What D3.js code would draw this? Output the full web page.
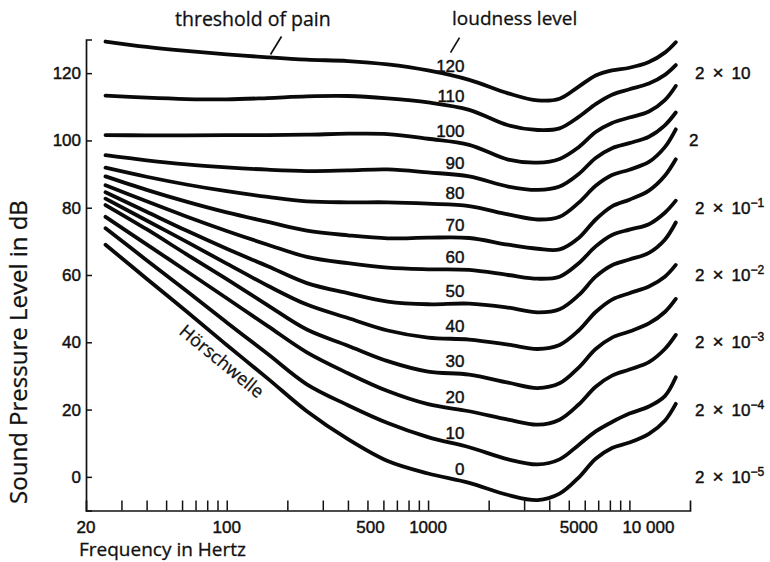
<!DOCTYPE html>
<html>
<head>
<meta charset="utf-8">
<script src="https://cdn.jsdelivr.net/npm/d3@7"></script>
<style>
  body { margin: 0; background: #fff; }
  svg { display: block; }
  .num { font-family: "Liberation Sans", Arial, sans-serif; font-size: 17px; fill: #111; stroke: #111; stroke-width: 0.45px; }
  .word { font-family: "Open Sans", sans-serif; fill: #111; stroke: #111; stroke-width: 0.3px; }
</style>
</head>
<body>
<div id="chart"></div>
<script>
const frequencies = [25, 40, 63, 100, 160, 250, 400, 630, 1000, 1600, 2500, 3500, 4500, 5600, 6800, 8200, 10000, 12500, 15000, 17000];

// sound pressure level (dB) of each equal loudness curve
const phon120 = [129.4, 127.8, 126.6, 125.6, 124.7, 124.0, 123.6, 122.6, 120.8, 118.0, 114.0, 111.9, 112.4, 116.0, 119.3, 120.8, 121.6, 123.3, 126.1, 129.2];
const phon110 = [113.3, 112.7, 112.3, 112.2, 112.6, 113.1, 113.2, 112.5, 111.3, 109.1, 104.5, 103.1, 103.6, 107.0, 110.8, 113.6, 115.2, 116.9, 119.5, 122.4];
const phon100 = [101.6, 101.5, 101.5, 101.6, 101.6, 101.7, 102.0, 101.9, 100.5, 98.7, 94.3, 93.4, 94.5, 98.0, 102.5, 105.2, 106.8, 108.6, 112.0, 116.2];
const phon90 = [95.6, 94.1, 92.9, 92.0, 91.3, 90.9, 91.1, 91.4, 90.5, 89.3, 86.3, 85.3, 86.3, 90.0, 94.8, 97.7, 99.2, 101.1, 104.5, 108.3];
const phon80 = [91.9, 89.2, 86.9, 84.9, 83.2, 81.9, 81.6, 81.6, 81.2, 80.5, 78.0, 76.5, 77.3, 81.5, 86.5, 89.7, 91.3, 93.6, 98.0, 103.3];
const phon70 = [89.3, 85.3, 81.8, 78.6, 75.8, 73.2, 71.8, 70.9, 71.1, 71.0, 69.0, 67.8, 67.6, 71.0, 76.5, 80.4, 82.4, 85.1, 89.5, 94.4];
const phon60 = [86.7, 81.9, 77.4, 73.1, 69.0, 65.4, 63.5, 62.2, 61.7, 61.5, 60.0, 58.9, 59.5, 63.5, 68.5, 71.9, 73.5, 75.1, 78.5, 82.1];
const phon50 = [84.6, 78.8, 73.2, 67.8, 62.6, 57.6, 54.6, 52.1, 51.3, 51.5, 50.3, 48.9, 49.8, 54.0, 59.5, 62.9, 64.6, 66.6, 70.5, 75.6];
const phon40 = [82.7, 76.2, 69.9, 63.4, 56.8, 51.2, 47.2, 43.5, 41.4, 40.8, 39.3, 38.0, 39.2, 43.5, 49.0, 52.7, 54.6, 56.6, 59.5, 63.0];
const phon30 = [80.8, 73.6, 66.2, 58.8, 51.0, 43.8, 39.0, 34.4, 31.3, 30.4, 28.0, 26.4, 27.8, 32.5, 38.0, 41.4, 43.2, 45.6, 49.0, 52.9];
const phon20 = [77.3, 69.1, 61.2, 53.1, 44.8, 37.0, 30.8, 25.5, 21.6, 19.5, 17.0, 15.5, 17.0, 21.5, 26.8, 30.1, 31.9, 34.1, 38.0, 42.2];
const phon10 = [73.9, 64.4, 55.3, 45.9, 36.5, 27.5, 21.3, 16.0, 11.8, 8.8, 5.2, 3.7, 5.2, 9.5, 13.5, 16.3, 18.8, 20.9, 24.0, 29.6];
const phon0 = [69.0, 58.9, 49.2, 39.2, 29.2, 19.5, 11.2, 4.7, 1.0, -1.8, -5.4, -6.9, -5.0, -0.2, 5.4, 8.6, 10.2, 12.8, 16.7, 21.7];

const loudnessLevels = [120, 110, 100, 90, 80, 70, 60, 50, 40, 30, 20, 10, 0];
const curves = [phon120, phon110, phon100, phon90, phon80, phon70, phon60, phon50, phon40, phon30, phon20, phon10, phon0];

// axes
const yTickValues = [0, 20, 40, 60, 80, 100, 120];
const xTickValues = [30, 40, 50, 60, 70, 80, 90, 100, 200, 300, 400, 500, 600, 700, 800, 900, 1000,
  2000, 3000, 4000, 5000, 6000, 7000, 8000, 9000, 10000];
const xLabelValues = [20, 100, 500, 1000, 5000, 10000];
const xLabelTexts = ['20', '100', '500', '1000', '5000', '10 000'];

// sound pressure in Pa on the right: 2 x 10^exp at the given dB level
const pressureLevels = [120, 100, 80, 60, 40, 20, 0];
const pressureExponents = [1, 0, -1, -2, -3, -4, -5];

const width = 770, height = 562;

const x = d3.scaleLog().domain([20, 20000]).range([86, 690]);
const y = d3.scaleLinear().domain([-10, 130]).range([510.5, 39.5]);

const svg = d3.select('#chart').append('svg')
    .attr('width', width)
    .attr('height', height);

// value of a curve at frequency f (linear in log f between read points)
function valueAt(series, f) {
    let i = d3.bisectRight(frequencies, f) - 1;
    i = Math.max(0, Math.min(frequencies.length - 2, i));
    const t = (Math.log10(f) - Math.log10(frequencies[i])) /
        (Math.log10(frequencies[i + 1]) - Math.log10(frequencies[i]));
    return series[i] + t * (series[i + 1] - series[i]);
}

// y axis, ticks point inwards
svg.append('g')
    .attr('transform', `translate(${x(20)},0)`)
    .call(d3.axisLeft(y).tickValues(yTickValues).tickSize(-6).tickSizeOuter(-6).tickPadding(5))
    .call(g => g.attr('font-size', null).attr('font-family', null))
    .call(g => g.select('.domain').attr('stroke', '#111').attr('stroke-width', 1.7))
    .call(g => g.selectAll('.tick line').attr('stroke', '#111').attr('stroke-width', 1.5))
    .call(g => g.selectAll('.tick text').attr('class', 'num'));

// x axis, ticks point up
svg.append('g')
    .attr('transform', `translate(0,${y(-10)})`)
    .call(d3.axisBottom(x).tickValues(xTickValues).tickSize(-10).tickSizeOuter(-10).tickFormat(''))
    .call(g => g.select('.domain').attr('stroke', '#111').attr('stroke-width', 1.7))
    .call(g => g.selectAll('.tick line').attr('stroke', '#111').attr('stroke-width', 1.5));

svg.append('g').selectAll('text')
    .data(xLabelValues)
    .join('text')
    .attr('class', 'num')
    .attr('x', d => x(d))
    .attr('dx', d => d >= 10000 ? 19 : d >= 5000 ? 10 : d === 500 ? 3 : 0)
    .attr('y', 533)
    .attr('text-anchor', 'middle')
    .text((d, i) => xLabelTexts[i]);

// axis titles
svg.append('text')
    .attr('class', 'word')
    .attr('x', 79)
    .attr('y', 556)
    .style('font-size', '19px')
    .text('Frequency in Hertz');

svg.append('text')
    .attr('class', 'word')
    .attr('transform', 'translate(27,352) rotate(-90)')
    .attr('text-anchor', 'middle')
    .style('font-size', '24px')
    .text('Sound Pressure Level in dB');

// curves
const line = d3.line()
    .x(d => x(d[0]))
    .y(d => y(d[1]))
    .curve(d3.curveCatmullRom.alpha(0.5));

svg.append('g').selectAll('path')
    .data(curves)
    .join('path')
    .attr('d', c => line(frequencies.map((f, i) => [f, c[i]])))
    .attr('fill', 'none')
    .attr('stroke', '#0a0a0a')
    .attr('stroke-width', 3.8)
    .attr('stroke-linecap', 'round');

// loudness level labels above each curve
const labelFreq = 1500;
svg.append('g').selectAll('text')
    .data(curves)
    .join('text')
    .attr('class', 'num')
    .attr('x', x(labelFreq) + 1)
    .attr('y', c => y(valueAt(c, labelFreq)) - 7)
    .attr('text-anchor', 'end')
    .text((c, i) => loudnessLevels[i]);

// Hörschwelle along the threshold curve
const a0 = [x(63), y(valueAt(phon0, 63))];
const a1 = [x(160), y(valueAt(phon0, 160))];
const angle = Math.atan2(a1[1] - a0[1], a1[0] - a0[0]) * 180 / Math.PI;
svg.append('text')
    .attr('class', 'word')
    .attr('transform', `translate(${x(106)},${y(valueAt(phon0, 106))}) rotate(${angle})`)
    .attr('y', 22)
    .attr('text-anchor', 'middle')
    .style('font-size', '18px')
    .text('Hörschwelle');

// top annotations
svg.append('text')
    .attr('class', 'word')
    .attr('x', 175)
    .attr('y', 26)
    .style('font-size', '19.5px')
    .text('threshold of pain');

svg.append('text')
    .attr('class', 'word')
    .attr('x', 452)
    .attr('y', 25)
    .style('font-size', '19px')
    .text('loudness level');

const painX = x(165);
const painY = y(valueAt(phon120, 165)) - 3;
svg.append('line')
    .attr('x1', painX).attr('y1', painY)
    .attr('x2', painX + 11).attr('y2', painY - 18)
    .attr('stroke', '#111').attr('stroke-width', 1.7);

const lvlX = x(labelFreq) - 13;
const lvlY = y(valueAt(phon120, labelFreq)) - 26;
svg.append('line')
    .attr('x1', lvlX).attr('y1', lvlY)
    .attr('x2', lvlX + 9).attr('y2', lvlY - 15)
    .attr('stroke', '#111').attr('stroke-width', 1.7);

// pressure scale on the right
const pLabels = svg.append('g').selectAll('text')
    .data(pressureLevels)
    .join('text')
    .attr('class', 'num')
    .attr('x', (d, i) => pressureExponents[i] === 0 ? 689 : 695)
    .attr('y', d => y(d) + 6);

pLabels.each(function (d, i) {
    const t = d3.select(this);
    const e = pressureExponents[i];
    t.append('tspan').text('2');
    if (e === 0) return;
    t.append('tspan').attr('dx', 8).style('font-size', '19px').text('×');
    t.append('tspan').attr('dx', 8).text('10');
    if (e !== 1) {
        t.append('tspan')
            .attr('dy', -7)
            .style('font-size', '12px')
            .text('−' + Math.abs(e));
    }
});
</script>
</body>
</html>
